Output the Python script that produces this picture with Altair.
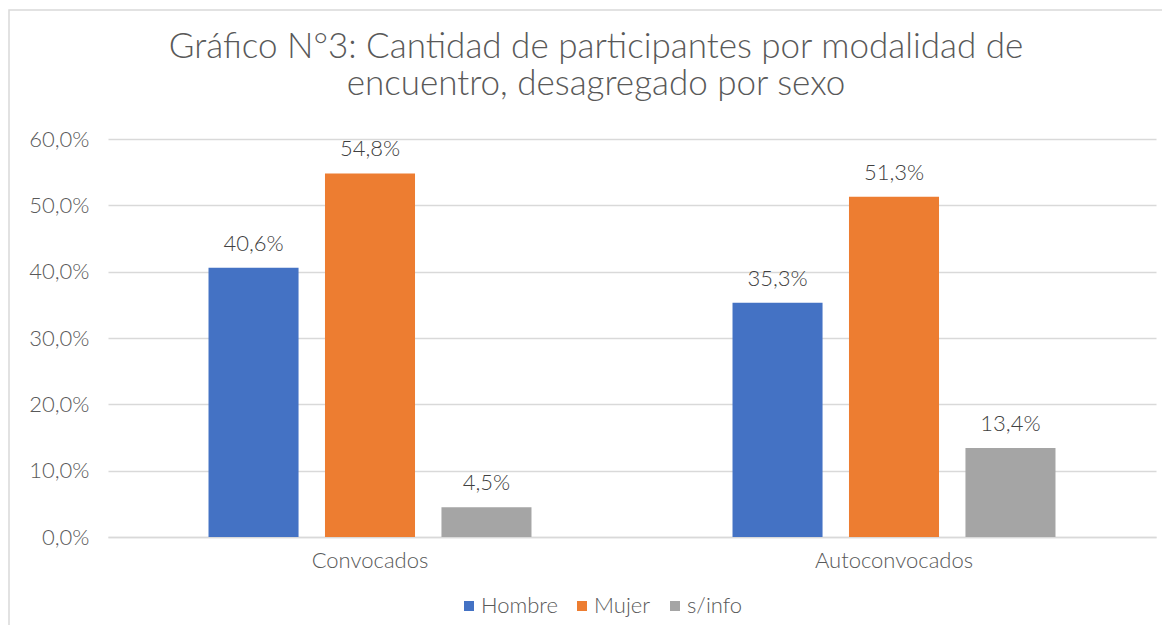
import altair as alt
import pandas as pd

modalidades = ["Convocados", "Autoconvocados"]
sexos = ["Hombre", "Mujer", "s/info"]
convocados = [40.6, 54.8, 4.5]
autoconvocados = [35.3, 51.3, 13.4]
colores = ["#4472C4", "#ED7D31", "#A5A5A5"]
y_ticks = [0, 10, 20, 30, 40, 50, 60]
titulo_1 = "Gráfico N°3: Cantidad de participantes por modalidad de"
titulo_2 = "encuentro, desagregado por sexo"

rows = []
for m, vals in zip(modalidades, [convocados, autoconvocados]):
    for s, v in zip(sexos, vals):
        rows.append({"Modalidad": m, "Sexo": s, "Valor": v})
df = pd.DataFrame(rows)

FONT = "Lato"
TXT = "#595959"
FS = 22
W, H = 1048, 398

base = alt.Chart(df).encode(
    x=alt.X("Modalidad:N", sort=modalidades, title=None,
            scale=alt.Scale(paddingInner=0, paddingOuter=0),
            axis=alt.Axis(labelFontSize=FS, labelColor=TXT, labelFont=FONT,
                          labelFontWeight=300, ticks=False, domainColor="#d9d9d9",
                          domainWidth=1.5, labelPadding=13, labelAngle=0, grid=False)),
    xOffset=alt.XOffset("Sexo:N", sort=sexos,
                        scale=alt.Scale(paddingInner=0.227, paddingOuter=0.863)),
)

bars = base.mark_bar().encode(
    y=alt.Y("Valor:Q", title=None,
            scale=alt.Scale(domain=[0, 60], nice=False),
            axis=alt.Axis(values=y_ticks, labelFontSize=FS, labelColor=TXT,
                          labelFont=FONT, labelFontWeight=300, ticks=False,
                          domain=False, gridColor="#d9d9d9", gridWidth=1.5,
                          labelPadding=19,
                          labelExpr="replace(format(datum.value, '.1f'), '.', ',') + '%'")),
    color=alt.Color("Sexo:N", sort=sexos,
                    scale=alt.Scale(domain=sexos, range=colores),
                    legend=alt.Legend(title=None, orient="none", legendX=350, legendY=456,
                                      direction="horizontal", symbolType="square",
                                      symbolSize=100, symbolStrokeWidth=0,
                                      labelFontSize=FS, labelFont=FONT,
                                      labelFontWeight=300, labelColor=TXT,
                                      labelOffset=1, columnPadding=13)),
)

labels = base.mark_text(baseline="alphabetic", dy=-17, fontSize=FS, font=FONT,
                        fontWeight=300, color="#404040").encode(
    y=alt.Y("Valor:Q"),
    text=alt.Text("label:N"),
).transform_calculate(label="replace(format(datum.Valor, '.1f'), '.', ',') + '%'")

frame = alt.Chart(pd.DataFrame({"k": [0]})).mark_rect(
    filled=False, stroke="#d9d9d9", strokeWidth=1.5
).encode(x=alt.value(-99), x2=alt.value(1400), y=alt.value(-129), y2=alt.value(900))

one = pd.DataFrame({"k": [0]})
title_kw = dict(fontSize=35, font=FONT, fontWeight=300, color=TXT, align="center",
                baseline="alphabetic")
t1 = alt.Chart(one).mark_text(**title_kw).encode(
    x=alt.value(488), y=alt.value(-81), text=alt.value(titulo_1))
t2 = alt.Chart(one).mark_text(**title_kw).encode(
    x=alt.value(488), y=alt.value(-44), text=alt.value(titulo_2))

chart = alt.layer(frame, bars, labels, t1, t2).properties(
    width=W, height=H,
    autosize=alt.AutoSizeParams(type="none"),
    padding={"left": 100, "top": 131, "right": 6, "bottom": 88},
).configure_view(stroke=None)

chart.save("out.html", embed_options={"renderer": "svg", "actions": False})
